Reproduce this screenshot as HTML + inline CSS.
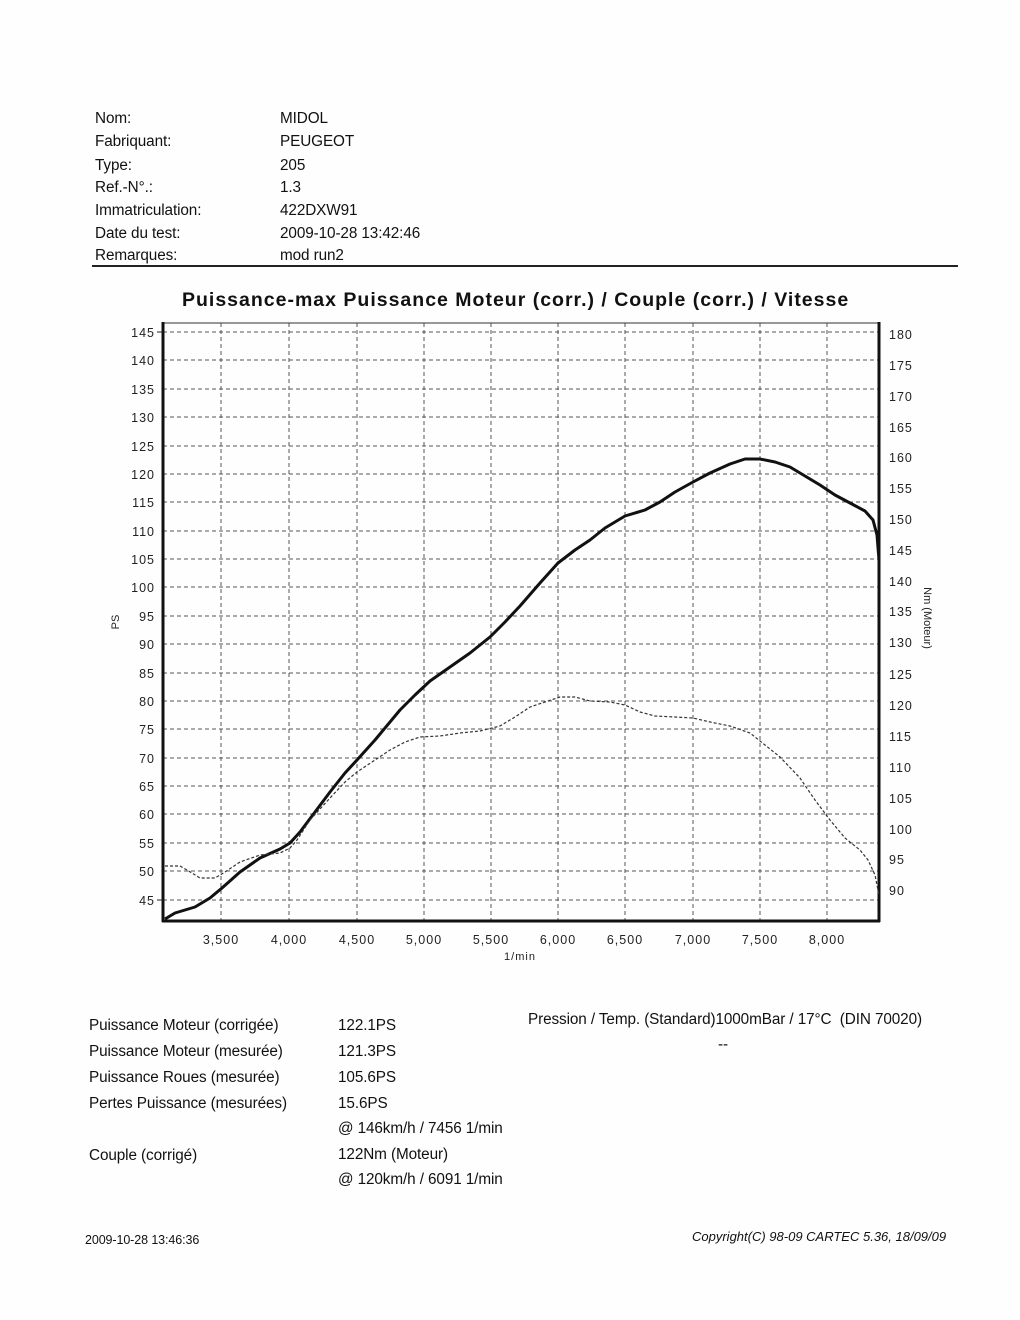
<!DOCTYPE html>
<html><head><meta charset="utf-8"><style>
body{margin:0;background:#fff;}
.w{position:relative;width:1020px;height:1320px;background:#fefefe;font-family:"Liberation Sans",sans-serif;color:#111;overflow:hidden}
.t{position:absolute;font-size:15.3px;letter-spacing:-0.1px;white-space:nowrap}
</style></head><body><div class="w">
<div class="t" style="left:95px;top:110px">Nom:</div><div class="t" style="left:280px;top:110px">MIDOL</div>
<div class="t" style="left:95px;top:133px">Fabriquant:</div><div class="t" style="left:280px;top:133px">PEUGEOT</div>
<div class="t" style="left:95px;top:157px">Type:</div><div class="t" style="left:280px;top:157px">205</div>
<div class="t" style="left:95px;top:179px">Ref.-N°.:</div><div class="t" style="left:280px;top:179px">1.3</div>
<div class="t" style="left:95px;top:202px">Immatriculation:</div><div class="t" style="left:280px;top:202px">422DXW91</div>
<div class="t" style="left:95px;top:225px">Date du test:</div><div class="t" style="left:280px;top:225px">2009-10-28 13:42:46</div>
<div class="t" style="left:95px;top:247px">Remarques:</div><div class="t" style="left:280px;top:247px">mod run2</div>
<div style="position:absolute;left:92px;top:265px;width:866px;height:2px;background:#222"></div>
<div class="t" style="left:182px;top:289px;font-size:19.5px;font-weight:bold;letter-spacing:1px">Puissance-max Puissance Moteur (corr.) / Couple (corr.) / Vitesse</div>
<svg style="position:absolute;left:0;top:0" width="1020" height="1320" font-family="Liberation Sans" font-size="12.5">
<g stroke="#555" stroke-dasharray="4,3" stroke-width="1">
<line x1="163" x2="879" y1="332" y2="332"/><line x1="163" x2="879" y1="360" y2="360"/><line x1="163" x2="879" y1="389" y2="389"/><line x1="163" x2="879" y1="417" y2="417"/><line x1="163" x2="879" y1="446" y2="446"/><line x1="163" x2="879" y1="474" y2="474"/><line x1="163" x2="879" y1="502" y2="502"/><line x1="163" x2="879" y1="531" y2="531"/><line x1="163" x2="879" y1="559" y2="559"/><line x1="163" x2="879" y1="587" y2="587"/><line x1="163" x2="879" y1="616" y2="616"/><line x1="163" x2="879" y1="644" y2="644"/><line x1="163" x2="879" y1="673" y2="673"/><line x1="163" x2="879" y1="701" y2="701"/><line x1="163" x2="879" y1="729" y2="729"/><line x1="163" x2="879" y1="758" y2="758"/><line x1="163" x2="879" y1="786" y2="786"/><line x1="163" x2="879" y1="814" y2="814"/><line x1="163" x2="879" y1="843" y2="843"/><line x1="163" x2="879" y1="871" y2="871"/><line x1="163" x2="879" y1="900" y2="900"/>
<line y1="323" y2="921" x1="221" x2="221"/><line y1="323" y2="921" x1="289" x2="289"/><line y1="323" y2="921" x1="357" x2="357"/><line y1="323" y2="921" x1="424" x2="424"/><line y1="323" y2="921" x1="491" x2="491"/><line y1="323" y2="921" x1="558" x2="558"/><line y1="323" y2="921" x1="625" x2="625"/><line y1="323" y2="921" x1="693" x2="693"/><line y1="323" y2="921" x1="760" x2="760"/><line y1="323" y2="921" x1="827" x2="827"/>
</g>
<line x1="163" y1="323" x2="879" y2="323" stroke="#333" stroke-width="1"/>
<line x1="163" y1="322" x2="163" y2="922" stroke="#111" stroke-width="3"/>
<line x1="879" y1="322" x2="879" y2="922" stroke="#111" stroke-width="3"/>
<line x1="162" y1="921" x2="880" y2="921" stroke="#111" stroke-width="3"/>
<g fill="#222" text-anchor="end" letter-spacing="1">
<text x="155" y="337">145</text><text x="155" y="365">140</text><text x="155" y="394">135</text><text x="155" y="422">130</text><text x="155" y="451">125</text><text x="155" y="479">120</text><text x="155" y="507">115</text><text x="155" y="536">110</text><text x="155" y="564">105</text><text x="155" y="592">100</text><text x="155" y="621">95</text><text x="155" y="649">90</text><text x="155" y="678">85</text><text x="155" y="706">80</text><text x="155" y="734">75</text><text x="155" y="763">70</text><text x="155" y="791">65</text><text x="155" y="819">60</text><text x="155" y="848">55</text><text x="155" y="876">50</text><text x="155" y="905">45</text>
</g>
<g stroke="#222"><line x1="157" x2="163" y1="332" y2="332"/><line x1="157" x2="163" y1="900" y2="900"/></g>
<g fill="#222" letter-spacing="1">
<text x="889" y="339">180</text><text x="889" y="370">175</text><text x="889" y="401">170</text><text x="889" y="432">165</text><text x="889" y="462">160</text><text x="889" y="493">155</text><text x="889" y="524">150</text><text x="889" y="555">145</text><text x="889" y="586">140</text><text x="889" y="616">135</text><text x="889" y="647">130</text><text x="889" y="679">125</text><text x="889" y="710">120</text><text x="889" y="741">115</text><text x="889" y="772">110</text><text x="889" y="803">105</text><text x="889" y="834">100</text><text x="889" y="864">95</text><text x="889" y="895">90</text>
</g>
<g fill="#222" text-anchor="middle" letter-spacing="1">
<text x="221" y="944">3,500</text><text x="289" y="944">4,000</text><text x="357" y="944">4,500</text><text x="424" y="944">5,000</text><text x="491" y="944">5,500</text><text x="558" y="944">6,000</text><text x="625" y="944">6,500</text><text x="693" y="944">7,000</text><text x="760" y="944">7,500</text><text x="827" y="944">8,000</text>
<text x="520" y="960" font-size="11">1/min</text>
</g>
<text transform="translate(119,622) rotate(-90)" text-anchor="middle" font-size="11" fill="#222">PS</text>
<text transform="translate(924,618) rotate(90)" text-anchor="middle" font-size="11" fill="#222">Nm (Moteur)</text>
<polyline fill="none" stroke="#111" stroke-width="3" stroke-linejoin="round" points="165,919 175,913 195,907 210,898 222,888 240,872 260,858 280,849 290,843 300,832 315,812 330,792 345,773 357,760 375,740 400,710 415,695 430,681 450,667 470,653 490,637 505,622 520,606 540,583 558,563 575,550 590,540 605,528 625,516 645,510 660,502 675,492 693,482 710,473 730,464 745,459 760,459 775,462 790,467 805,476 820,485 835,495 850,503 865,511 873,520 877,535 879,560"/>
<polyline fill="none" stroke="#333" stroke-width="1.2" stroke-dasharray="3,2" points="165,866 180,866 192,873 200,878 215,878 225,872 240,862 260,855 280,853 290,848 297,840 310,820 330,798 345,782 357,772 375,760 390,750 405,742 420,737 440,736 460,733 480,731 500,726 515,717 530,707 545,702 560,697 575,697 590,701 610,702 625,705 640,712 655,716 675,717 693,718 710,722 730,726 750,733 765,745 780,757 800,778 815,800 830,820 845,838 860,850 868,860 875,875 879,895"/>
</svg>
<div class="t" style="left:89px;top:1017px">Puissance Moteur (corrigée)</div><div class="t" style="left:338px;top:1017px">122.1PS</div>
<div class="t" style="left:89px;top:1043px">Puissance Moteur (mesurée)</div><div class="t" style="left:338px;top:1043px">121.3PS</div>
<div class="t" style="left:89px;top:1069px">Puissance Roues (mesurée)</div><div class="t" style="left:338px;top:1069px">105.6PS</div>
<div class="t" style="left:89px;top:1095px">Pertes Puissance (mesurées)</div><div class="t" style="left:338px;top:1095px">15.6PS</div>
<div class="t" style="left:338px;top:1120px">@ 146km/h / 7456 1/min</div>
<div class="t" style="left:89px;top:1147px">Couple (corrigé)</div><div class="t" style="left:338px;top:1146px">122Nm (Moteur)</div>
<div class="t" style="left:338px;top:1171px">@ 120km/h / 6091 1/min</div>
<div class="t" style="left:528px;top:1011px">Pression / Temp. (Standard)1000mBar / 17°C &nbsp;(DIN 70020)</div>
<div class="t" style="left:718px;top:1036px">--</div>
<div class="t" style="left:85px;top:1233px;font-size:12.5px">2009-10-28 13:46:36</div>
<div class="t" style="left:692px;top:1229px;font-size:13px;font-style:italic;letter-spacing:0">Copyright(C) 98-09 CARTEC 5.36, 18/09/09</div>
</div></body></html>
